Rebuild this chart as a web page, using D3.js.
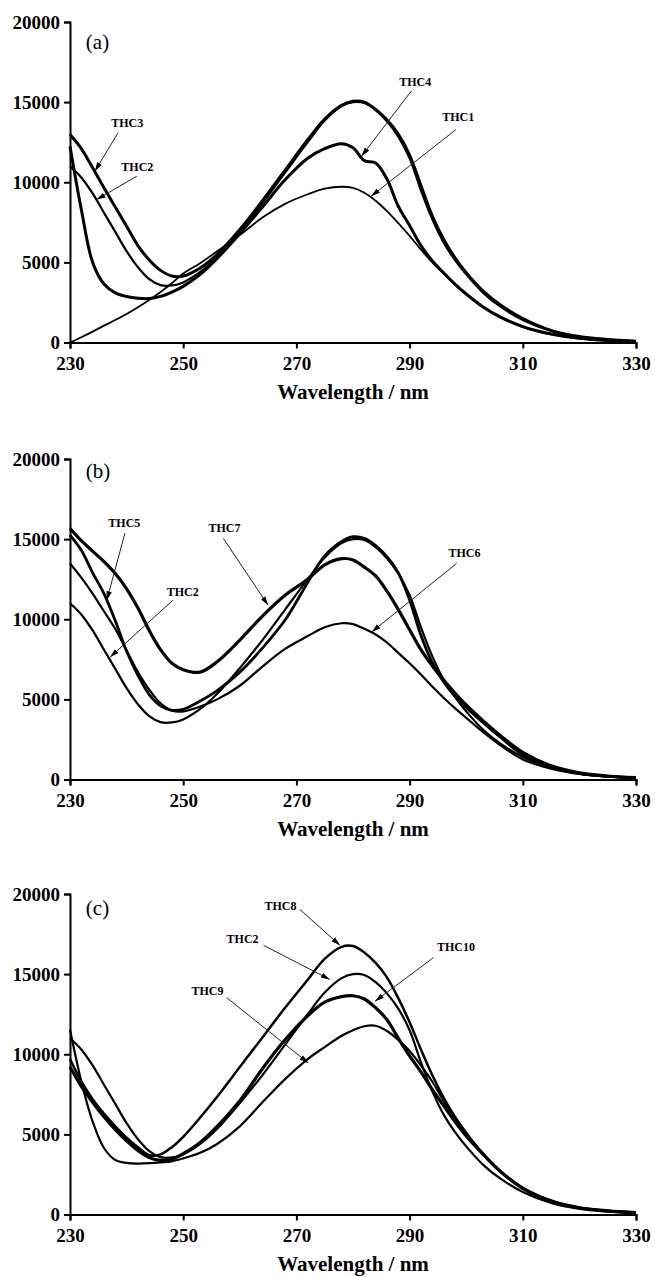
<!DOCTYPE html>
<html>
<head>
<meta charset="utf-8">
<script src="https://cdn.jsdelivr.net/npm/d3@7"></script>
<style>
  body { margin: 0; background: #fff; }
  svg  { display: block; }
</style>
</head>
<body>
<svg width="655" height="1277"></svg>
<script>
// Wavelength grid (nm) shared by every spectrum
const wavelengths = [230, 232, 234, 236, 238, 240, 242, 244, 246, 248, 250, 253, 256, 260, 264, 268, 272, 275,
                     278, 280, 282, 284, 286, 288, 290, 292, 294, 296, 298, 300, 303, 306, 310, 315, 320, 325, 330];

// Absorbance-like values
const thc1  = [0, 330, 680, 1050, 1400, 1780, 2200, 2650, 3150, 3700, 4300, 4950, 5700, 6700, 7800, 8650, 9250, 9600,
               9720, 9650, 9350, 8850, 8200, 7450, 6650, 5800, 5000, 4300, 3600, 2980, 2180, 1570, 960, 500, 250, 120, 50];
const thc2  = [11000, 10300, 9300, 8100, 6900, 5700, 4700, 3950, 3580, 3560, 3750, 4400, 5350, 6950, 8700, 10600, 12500, 13850,
               14750, 15000, 14950, 14500, 13800, 12850, 11500, 9500, 7700, 6250, 5150, 4250, 3100, 2250, 1400, 720, 350, 180, 80];
const thc3  = [12980, 12100, 10900, 9650, 8450, 7250, 6050, 5150, 4500, 4150, 4150, 4650, 5500, 7050, 8850, 10750, 12650, 13950,
               14800, 15050, 15000, 14550, 13900, 13000, 11700, 9800, 7900, 6450, 5300, 4350, 3200, 2350, 1500, 760, 370, 190, 80];
const thc4  = [12250, 8300, 5000, 3650, 3100, 2870, 2760, 2740, 2880, 3150, 3500, 4250, 5250, 6800, 8450, 10150, 11500, 12100,
               12400, 12150, 11350, 11200, 10200, 8500, 7300, 6050, 5100, 4350, 3650, 3030, 2220, 1600, 990, 530, 270, 130, 60];
const thc5  = [15250, 14300, 12900, 11600, 9900, 8000, 6500, 5300, 4600, 4320, 4380, 4900, 5550, 6700, 8200, 9950, 12300, 13950,
               14850, 15150, 15050, 14600, 13900, 12900, 11200, 9000, 7300, 6100, 5200, 4500, 3550, 2650, 1550, 780, 380, 200, 110];
const thc6  = [13480, 12600, 11600, 10500, 9400, 8050, 6700, 5600, 4750, 4300, 4250, 4550, 5000, 5850, 7050, 8150, 8950, 9500,
               9750, 9700, 9400, 9050, 8550, 7900, 7250, 6550, 5800, 5100, 4450, 3850, 2950, 2150, 1250, 680, 350, 190, 110];
const thc7  = [15660, 14900, 14250, 13600, 12850, 11900, 10700, 9300, 8100, 7250, 6850, 6700, 7350, 8700, 10200, 11500, 12500, 13400,
               13780, 13700, 13250, 12700, 11750, 10600, 9350, 8100, 7100, 6200, 5400, 4650, 3650, 2750, 1700, 850, 420, 220, 120];
const thc8  = [9700, 8300, 7200, 6300, 5500, 4800, 4200, 3700, 3750, 4200, 4850, 6050, 7350, 9200, 11050, 12900, 14650, 15950,
               16700, 16750, 16350, 15700, 14800, 13500, 12000, 10300, 8700, 7300, 6100, 5100, 3750, 2700, 1650, 850, 420, 230, 120];
const thc9  = [11540, 8300, 5800, 4150, 3400, 3220, 3180, 3200, 3250, 3320, 3500, 3850, 4400, 5500, 7000, 8450, 9700, 10450,
               11150, 11500, 11750, 11780, 11450, 10900, 10200, 9300, 8300, 7100, 6000, 5050, 3800, 2700, 1600, 820, 420, 230, 120];
const thc10 = [9200, 8000, 7000, 6100, 5300, 4600, 4000, 3550, 3380, 3450, 3800, 4500, 5500, 7100, 9100, 10900, 12400, 13250,
               13600, 13650, 13450, 12900, 12150, 11000, 9900, 8900, 7800, 6800, 5800, 4900, 3750, 2700, 1650, 850, 420, 230, 120];

const xTicks = [230, 250, 270, 290, 310, 330];
const yTicks = [0, 5000, 10000, 15000, 20000];
const xTitle = 'Wavelength / nm';

// Panel layout; label/arrow anchors are in data units [nm, value]
const panels = [
  {
    tag: '(a)', top: 22, tagAt: [232.8, 18760],
    series: [
      { values: thc1, width: 1.8 },
      { values: thc2, width: 2.2 },
      { values: thc3, width: 3 },
      { values: thc4, width: 3 }
    ],
    notes: [
      { text: 'THC3',  at: [240.1, 13670], from: [238.5, 13090], to: [234.4, 10690] },
      { text: 'THC2',  at: [241.9, 10980], from: [241.8, 10375], to: [234.7, 8920] },
      { text: 'THC4',  at: [291.0, 16260], from: [290.3, 15690], to: [281.5, 11625] },
      { text: 'THC1',  at: [298.6, 14045], from: [298.2, 13290], to: [283.2, 9125] }
    ]
  },
  {
    tag: '(b)', top: 459, tagAt: [232.8, 19220],
    series: [
      { values: thc6, width: 2.2 },
      { values: thc2, width: 2.2 },
      { values: thc5, width: 2.8 },
      { values: thc7, width: 3.2 }
    ],
    notes: [
      { text: 'THC5',  at: [239.6, 16000], from: [239.7, 15360], to: [236.5, 11190] },
      { text: 'THC7',  at: [257.3, 15690], from: [257.1, 15040], to: [265.0, 10875] },
      { text: 'THC2',  at: [249.9, 11690], from: [248.2, 11190], to: [237.1, 7640] },
      { text: 'THC6',  at: [299.7, 14125], from: [298.3, 13480], to: [283.3, 9205] }
    ]
  },
  {
    tag: '(c)', top: 894, tagAt: [232.8, 19140],
    series: [
      { values: thc9,  width: 2.2 },
      { values: thc2,  width: 2.2 },
      { values: thc8,  width: 2.5 },
      { values: thc10, width: 3.2 }
    ],
    notes: [
      { text: 'THC8',  at: [267.2, 19230], from: [270.6, 19045], to: [277.7, 16795] },
      { text: 'THC2',  at: [260.5, 17170], from: [264.2, 16795], to: [275.9, 14670] },
      { text: 'THC9',  at: [254.3, 13920], from: [257.7, 13525], to: [272.1, 9460] },
      { text: 'THC10', at: [298.2, 16670], from: [294.2, 16025], to: [283.9, 13310] }
    ]
  }
];

const serif = "'Liberation Serif', 'Times New Roman', Times, serif";
const plotHeight = 320.5;

let svg = d3.select('svg');

svg.append('defs').append('marker')
    .attr('id', 'arrow')
    .attr('viewBox', '0 0 10 6')
    .attr('refX', 10)
    .attr('refY', 3)
    .attr('markerUnits', 'userSpaceOnUse')
    .attr('markerWidth', 9)
    .attr('markerHeight', 6)
    .attr('orient', 'auto')
  .append('path')
    .attr('d', 'M0,0L10,3L0,6Z')
    .attr('fill', '#000');

let x = d3.scaleLinear().domain([230, 330]).range([70, 636]);

panels.forEach(p => {
  let y = d3.scaleLinear().domain([0, 20000]).range([p.top + plotHeight, p.top]);
  let g = svg.append('g');

  // Axes
  let xAxis = g.append('g')
    .attr('transform', `translate(0, ${y(0)})`)
    .call(d3.axisBottom(x).tickValues(xTicks).tickSize(6).tickPadding(8).tickFormat(d3.format('d')));

  let yAxis = g.append('g')
    .attr('transform', `translate(${x(230)}, 0)`)
    .call(d3.axisLeft(y).tickValues(yTicks).tickSize(6).tickPadding(4).tickFormat(d3.format('d')));

  [xAxis, yAxis].forEach(a => {
    a.attr('font-family', serif).attr('font-size', 19).attr('font-weight', 'bold');
    a.selectAll('path, line').attr('stroke', '#000').attr('stroke-width', 2);
    a.selectAll('text').attr('fill', '#000');
  });

  g.append('text')
    .attr('x', (x(230) + x(330)) / 2)
    .attr('y', y(0) + 56)
    .attr('text-anchor', 'middle')
    .attr('font-family', serif)
    .attr('font-size', 21)
    .attr('font-weight', 'bold')
    .text(xTitle);

  g.append('text')
    .attr('x', x(p.tagAt[0]))
    .attr('y', y(p.tagAt[1]))
    .attr('dominant-baseline', 'central')
    .attr('font-family', serif)
    .attr('font-size', 21)
    .text(p.tag);

  // Spectra
  let line = d3.line()
    .x((d, i) => x(wavelengths[i]))
    .y(d => y(d))
    .curve(d3.curveCatmullRom.alpha(0.5));

  g.append('g')
    .selectAll('path')
    .data(p.series)
    .join('path')
      .attr('d', d => line(d.values))
      .attr('fill', 'none')
      .attr('stroke', '#000')
      .attr('stroke-width', d => d.width)
      .attr('stroke-linejoin', 'round');

  // Labels with arrows
  let note = g.append('g').selectAll('g').data(p.notes).join('g');

  note.append('line')
    .attr('x1', d => x(d.from[0]))
    .attr('y1', d => y(d.from[1]))
    .attr('x2', d => x(d.to[0]))
    .attr('y2', d => y(d.to[1]))
    .attr('stroke', '#222')
    .attr('stroke-width', 1)
    .attr('marker-end', 'url(#arrow)');

  note.append('text')
    .attr('x', d => x(d.at[0]))
    .attr('y', d => y(d.at[1]))
    .attr('text-anchor', 'middle')
    .attr('dominant-baseline', 'central')
    .attr('font-family', serif)
    .attr('font-size', 12)
    .attr('font-weight', 'bold')
    .text(d => d.text);
});
</script>
</body>
</html>
